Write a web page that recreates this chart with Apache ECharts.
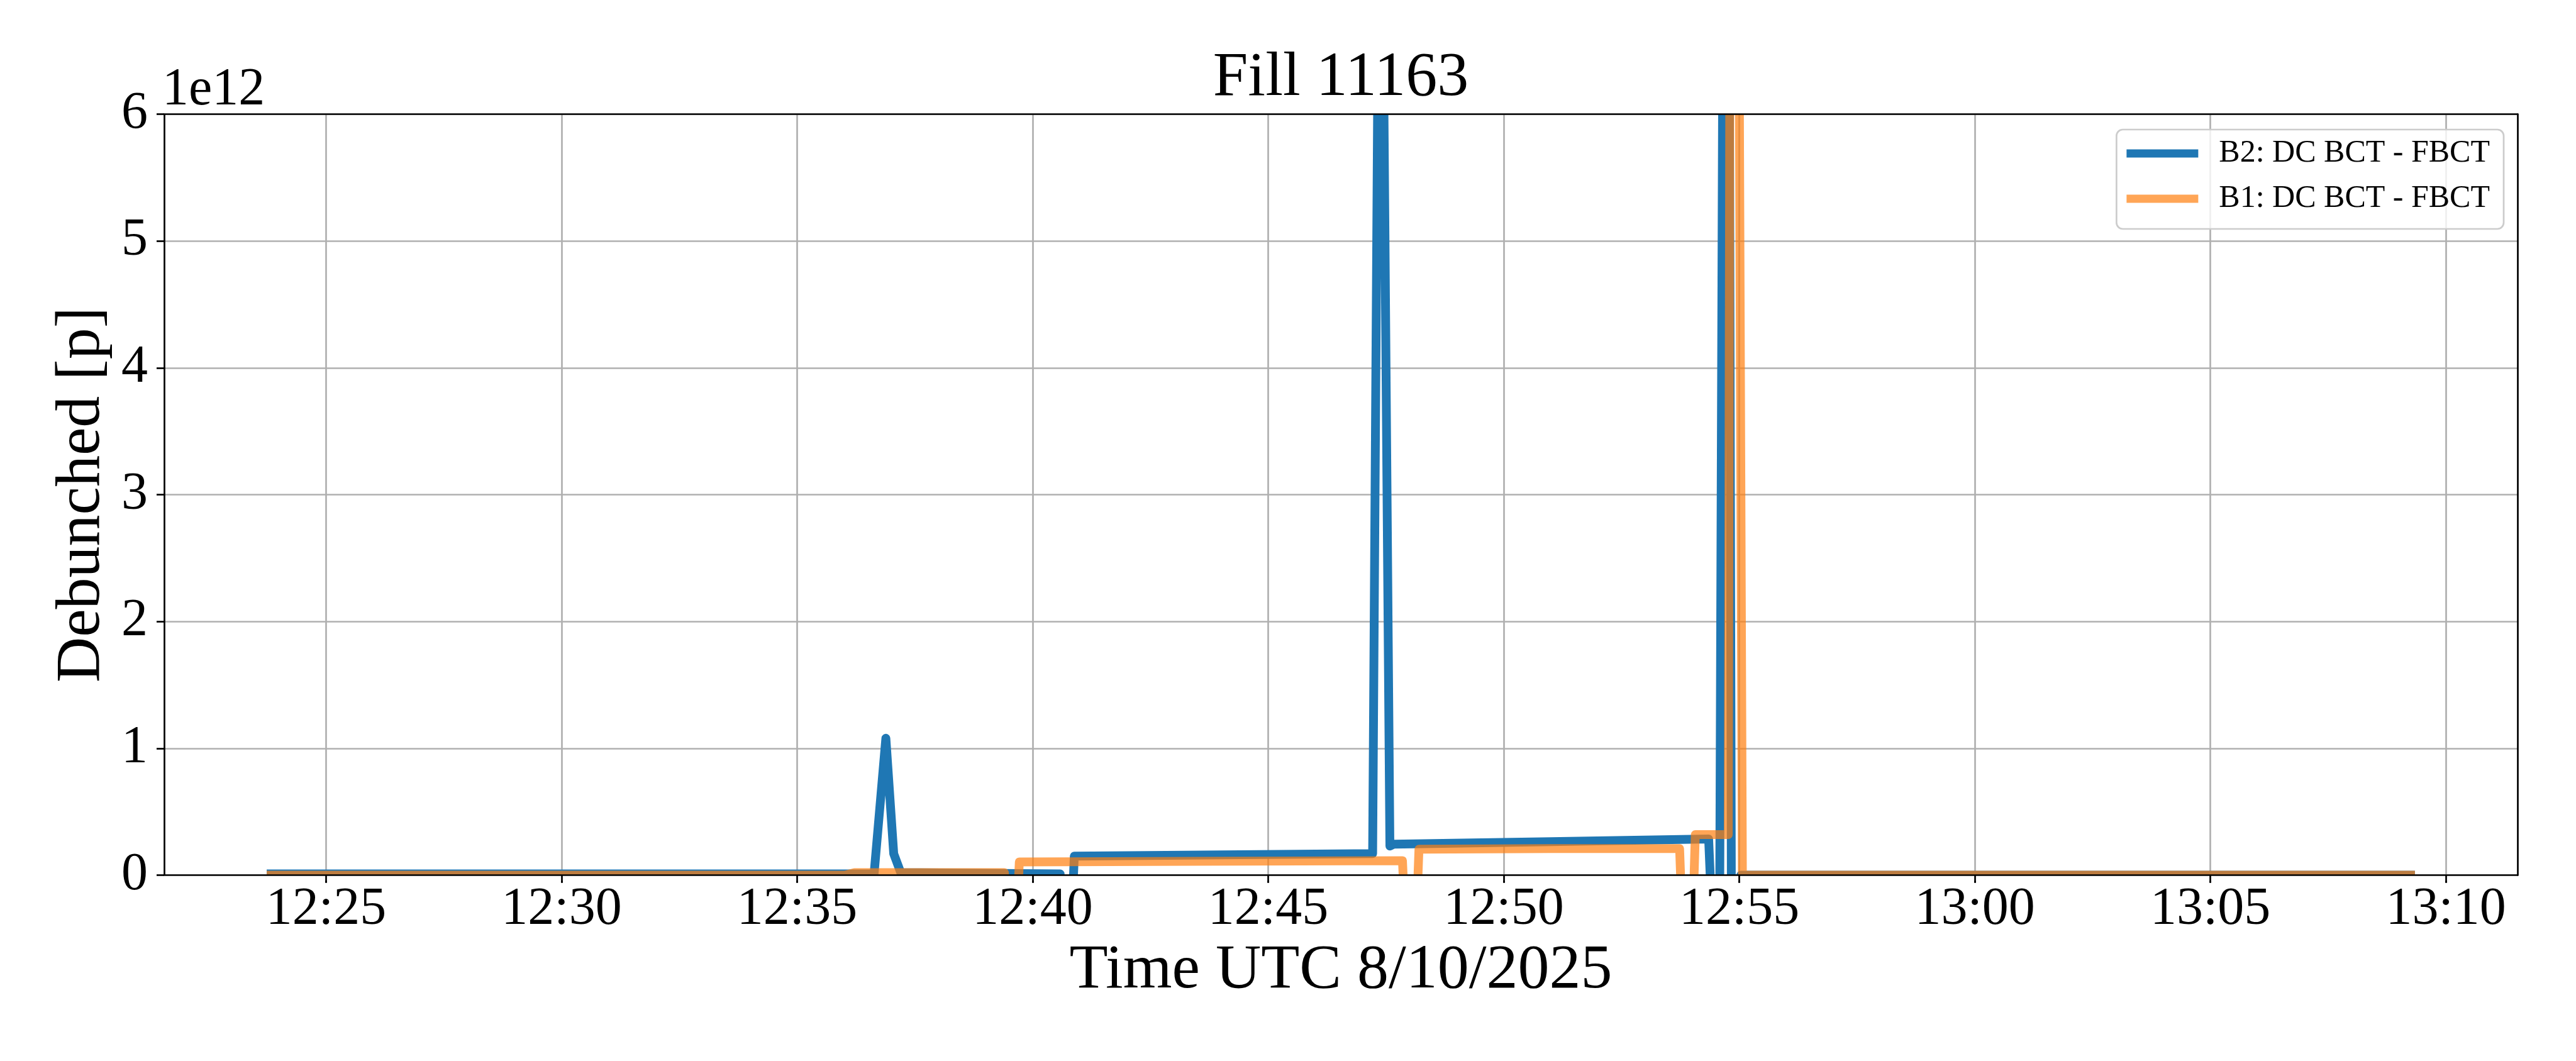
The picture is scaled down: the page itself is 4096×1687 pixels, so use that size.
<!DOCTYPE html>
<html>
<head>
<meta charset="utf-8">
<title>Fill 11163</title>
<script src="https://cdn.jsdelivr.net/npm/echarts@6.0.0/dist/echarts.min.js"></script>
<style>
  html, body { margin: 0; padding: 0; background: #fff; }
  #chart { width: 4096px; height: 1687px; }
</style>
</head>
<body>
<div id="chart"></div>
<script>
// axis ticks
const xTickLabels = ['12:25', '12:30', '12:35', '12:40', '12:45', '12:50', '12:55', '13:00', '13:05', '13:10'];
const yTickLabels = ['0', '1', '2', '3', '4', '5', '6'];

// B2: DC BCT - FBCT, values in units of 1e12 p
const b2Times = ['12:23:50', '12:36:38', '12:36:53', '12:37:03', '12:37:12', '12:40:35', '12:40:38', '12:40:50',
                 '12:40:53', '12:44:00', '12:47:13', '12:47:23', '12:47:35', '12:47:40', '12:51:00', '12:54:21',
                 '12:54:25', '12:54:35', '12:54:44', '12:54:50', '12:54:58', '12:55:02', '13:09:15'];
const b2Values = [0.01, 0.01, 1.08, 0.17, 0.02, 0.01, -0.3, -0.3,
                  0.15, 0.16, 0.17, 9.4, 0.23, 0.245, 0.265, 0.285,
                  -0.3, -0.3, 15, -0.3, -0.3, 0.0, 0.0];

// B1: DC BCT - FBCT
const b1Times = ['12:23:50', '12:36:01', '12:36:13', '12:39:24', '12:39:27', '12:39:40', '12:39:43', '12:43:30',
                 '12:47:51', '12:47:54', '12:48:09', '12:48:12', '12:51:00', '12:53:44', '12:53:47', '12:54:01',
                 '12:54:04', '12:54:46', '12:54:52', '12:55:04', '13:09:15'];
const b1Values = [0.0, 0.0, 0.02, 0.02, -0.3, -0.3, 0.105, 0.11,
                  0.115, -0.3, -0.3, 0.205, 0.21, 0.21, -0.3, -0.3,
                  0.32, 0.32, 19, 0.0, 0.0];

const FONT = 'Liberation Serif';
const BLUE = '#1f77b4';
const ORANGE = 'rgba(255, 127, 14, 0.7)';
const W = 4096, H = 1687;
const GRID = { left: 261, right: 93, top: 181.5, bottom: 295.4 };
const LINE_W = 14;
const AXIS_W = 2.7;

function toMinutes(hms) {
    const p = hms.split(':').map(Number);
    return p[0] * 60 + p[1] + (p[2] || 0) / 60;
}
function fmtMinutes(m) {
    const h = Math.floor(m / 60);
    const mm = Math.round(m - h * 60);
    return h + ':' + String(mm).padStart(2, '0');
}
function pairs(times, values) {
    return times.map((t, i) => [toMinutes(t), values[i]]);
}

const xTickValues = xTickLabels.map(toMinutes);
const allT = b2Times.concat(b1Times).map(toMinutes);
const tFirst = Math.min(...allT), tLast = Math.max(...allT);
const pad = (tLast - tFirst) * 0.05;   // matplotlib default margin
const xMin = tFirst - pad, xMax = tLast + pad;

const plotW = W - GRID.left - GRID.right;
const tickStyle = { show: true, length: 12, lineStyle: { color: '#000', width: AXIS_W } };
const frameLine = { show: true, onZero: false, lineStyle: { color: '#000', width: AXIS_W } };
const gridLine = { show: true, lineStyle: { color: '#b0b0b0', width: AXIS_W } };

let chart = echarts.init(document.getElementById('chart'));
let option = {
    animation: false,
    backgroundColor: '#fff',
    textStyle: { fontFamily: FONT },
    title: {
        text: 'Fill 11163',
        left: GRID.left + plotW / 2,
        textAlign: 'center',
        top: 75,
        padding: 0,
        textStyle: { fontFamily: FONT, fontSize: 100, lineHeight: 100, fontWeight: 'normal', color: '#000' }
    },
    legend: {
        orient: 'vertical',
        right: 115,
        top: 206,
        data: ['B2: DC BCT - FBCT', 'B1: DC BCT - FBCT'],
        icon: 'rect',
        itemWidth: 114,
        itemHeight: 13,
        itemGap: 22,
        padding: [13, 22, 23, 16],
        backgroundColor: 'rgba(255,255,255,0.8)',
        borderColor: '#cccccc',
        borderWidth: AXIS_W,
        borderRadius: 10,
        selectedMode: false,
        textStyle: { fontFamily: FONT, fontSize: 50, lineHeight: 50, color: '#000', padding: [0, 0, 0, 28] }
    },
    grid: { left: GRID.left, right: GRID.right, top: GRID.top, bottom: GRID.bottom },
    xAxis: [
        {
            type: 'value', min: xMin, max: xMax, position: 'bottom', z: 0,
            axisLine: { show: false, onZero: false },
            axisTick: Object.assign({ customValues: xTickValues }, tickStyle),
            axisLabel: {
                customValues: xTickValues, formatter: fmtMinutes,
                fontFamily: FONT, fontSize: 84, lineHeight: 84, color: '#000', margin: 13
            },
            splitLine: gridLine,
            name: 'Time UTC 8/10/2025', nameLocation: 'middle', nameGap: 101,
            nameTextStyle: { fontFamily: FONT, fontSize: 100, lineHeight: 100, color: '#000' }
        },
        {
            type: 'value', min: xMin, max: xMax, position: 'bottom', z: 10,
            axisLine: frameLine,
            axisTick: Object.assign({ customValues: xTickValues }, tickStyle),
            axisLabel: { show: false, customValues: xTickValues },
            splitLine: { show: false }
        },
        {
            type: 'value', min: xMin, max: xMax, position: 'top', z: 10,
            axisLine: frameLine, axisTick: { show: false }, axisLabel: { show: false }, splitLine: { show: false }
        }
    ],
    yAxis: [
        {
            type: 'value', min: 0, max: 6, interval: 1, position: 'left', z: 0,
            axisLine: frameLine,
            axisTick: tickStyle,
            axisLabel: {
                formatter: v => yTickLabels[Math.round(v)],
                fontFamily: FONT, fontSize: 84, lineHeight: 84, color: '#000', margin: 26
            },
            splitLine: gridLine,
            name: 'Debunched [p]', nameLocation: 'middle', nameGap: 80, nameRotate: 90,
            nameTextStyle: { fontFamily: FONT, fontSize: 100, lineHeight: 100, color: '#000' }
        },
        {
            type: 'value', min: 0, max: 6, interval: 1, position: 'right', z: 10,
            axisLine: frameLine, axisTick: { show: false }, axisLabel: { show: false }, splitLine: { show: false }
        }
    ],
    graphic: [
        // hide the part of the thick lines that ECharts lets spill past the frame
        { type: 'rect', z: 5, silent: true, shape: { x: GRID.left, y: H - GRID.bottom, width: plotW, height: 9 }, style: { fill: '#fff' } },
        { type: 'rect', z: 5, silent: true, shape: { x: GRID.left, y: GRID.top - 9, width: plotW, height: 9 }, style: { fill: '#fff' } },
        { type: 'text', z: 5, silent: true, x: 258, y: 144,
          style: { text: '1e12', fontFamily: FONT, fontSize: 84, fill: '#000', align: 'left', verticalAlign: 'middle' } }
    ],
    series: [
        {
            name: 'B2: DC BCT - FBCT', type: 'line', symbol: 'none', z: 2,
            data: pairs(b2Times, b2Values),
            itemStyle: { color: BLUE },
            lineStyle: { color: BLUE, width: LINE_W, join: 'round', cap: 'square' }
        },
        {
            name: 'B1: DC BCT - FBCT', type: 'line', symbol: 'none', z: 3,
            data: pairs(b1Times, b1Values),
            itemStyle: { color: ORANGE },
            lineStyle: { color: ORANGE, width: LINE_W, join: 'round', cap: 'square' }
        }
    ]
};
chart.setOption(option);
</script>
</body>
</html>
